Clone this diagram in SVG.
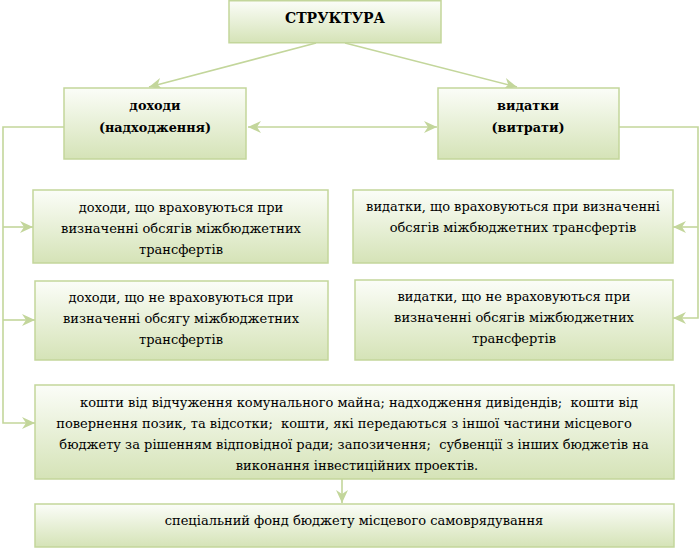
<svg xmlns="http://www.w3.org/2000/svg" width="700" height="548" viewBox="0 0 700 548">
<style>
.box{fill:url(#g);stroke:#c3d69b;stroke-width:1.5}
text{font-family:'DejaVu Serif','Liberation Serif',serif;font-size:13px;fill:#000;text-anchor:middle}
.b{font-weight:bold;font-size:12.8px}
.h{font-weight:bold;font-size:14px}
.p{white-space:pre}
.c{fill:none;stroke:#c3d69b;stroke-width:1.6}
</style>
<defs>
<linearGradient id="g" x1="0" y1="0" x2="0" y2="1">
<stop offset="0" stop-color="#fbfdf8"/>
<stop offset="1" stop-color="#d5e3b7"/>
</linearGradient>
<marker id="a" markerUnits="userSpaceOnUse" markerWidth="14" markerHeight="14" viewBox="0 0 14 14" refX="13" refY="7" orient="auto-start-reverse">
<path d="M0,1 L13,7 L0,13 L4,7 z" fill="#c3d69b"/>
</marker>
</defs>
<g id="connectors">
<line class="c" x1="316" y1="43" x2="149" y2="87" marker-end="url(#a)"/>
<line class="c" x1="345" y1="43" x2="517" y2="87" marker-end="url(#a)"/>
<line class="c" x1="248" y1="127" x2="437" y2="127" marker-start="url(#a)" marker-end="url(#a)"/>
<polyline class="c" points="64,127 3,127 3,423 35,423" marker-end="url(#a)"/>
<line class="c" x1="3" y1="227" x2="33" y2="227" marker-end="url(#a)"/>
<line class="c" x1="3" y1="320" x2="35" y2="320" marker-end="url(#a)"/>
<polyline class="c" points="619,127 698,127 698,318 673,318" marker-end="url(#a)"/>
<line class="c" x1="698" y1="227" x2="673" y2="227" marker-end="url(#a)"/>
<line class="c" x1="342" y1="479" x2="342" y2="503" marker-end="url(#a)"/>
</g>
<g id="n-struktura">
<rect class="box" x="229" y="0.75" width="212" height="42"/>
<text class="h" x="335" y="23">СТРУКТУРА</text>
</g>
<g id="n-dokhody">
<rect class="box" x="64" y="88" width="182" height="71"/>
<text class="b" x="155" y="110">доходи</text>
<text class="b" x="155" y="132">(надходження)</text>
</g>
<g id="n-vydatky">
<rect class="box" x="438" y="88" width="181" height="71"/>
<text class="b" x="528" y="110">видатки</text>
<text class="b" x="528" y="132">(витрати)</text>
</g>
<g id="n-dokhody1">
<rect class="box" x="33" y="190" width="295" height="73"/>
<text x="181" y="212">доходи, що враховуються при</text>
<text x="181" y="233">визначенні обсягів міжбюджетних</text>
<text x="181" y="254">трансфертів</text>
</g>
<g id="n-dokhody2">
<rect class="box" x="35" y="281" width="293" height="79"/>
<text x="181" y="302">доходи, що не враховуються при</text>
<text x="181" y="323">визначенні обсягу міжбюджетних</text>
<text x="181" y="344">трансфертів</text>
</g>
<g id="n-vydatky1">
<rect class="box" x="353" y="190" width="320" height="73"/>
<text x="513" y="211">видатки, що враховуються при визначенні</text>
<text x="513" y="232">обсягів міжбюджетних трансфертів</text>
</g>
<g id="n-vydatky2">
<rect class="box" x="355" y="280" width="318" height="80"/>
<text x="514" y="301">видатки, що не враховуються при</text>
<text x="514" y="322">визначенні обсягів міжбюджетних</text>
<text x="514" y="343">трансфертів</text>
</g>
<g id="n-koshty">
<rect class="box" x="35" y="385" width="639" height="94"/>
<text class="p" x="359" y="407">кошти від відчуження комунального майна; надходження дивідендів;  кошти від</text>
<text class="p" x="344" y="428">повернення позик, та відсотки;  кошти, які передаються з іншої частини місцевого</text>
<text class="p" x="354" y="449">бюджету за рішенням відповідної ради; запозичення;  субвенції з інших бюджетів на</text>
<text x="357" y="470">виконання інвестиційних проектів.</text>
</g>
<g id="n-fond">
<rect class="box" x="35" y="504" width="639" height="43"/>
<text x="354" y="525">спеціальний фонд бюджету місцевого самоврядування</text>
</g>
</svg>
